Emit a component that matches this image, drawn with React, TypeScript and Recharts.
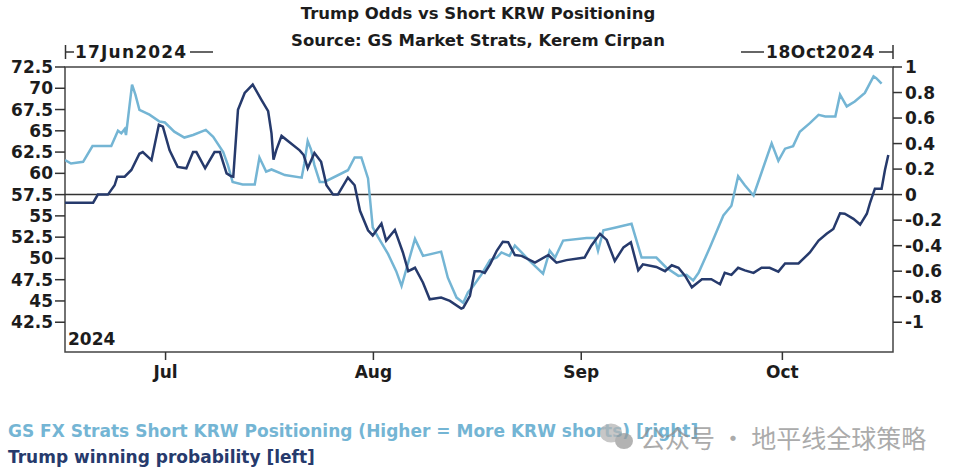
import React from 'react';
import { LineChart, Line, XAxis, YAxis, ReferenceLine, ReferenceArea } from 'recharts';

// Day index: 0 = 16 Jun 2024
const trumpDays = [0, 4.2, 4.9, 6.4, 7.4, 7.8, 8.9, 9.9, 11.1, 11.6, 12.9, 14.0, 14.6, 15.6, 16.8, 18.1, 19.1, 19.6, 20.9, 22.3, 23.1, 24.1, 24.8, 25.1, 25.8, 26.8, 28.0, 29.3, 30.3, 30.8, 31.1, 31.5, 32.3, 35.0, 35.6, 36.2, 37.2, 38.2, 39.0, 40.0, 40.7, 42.2, 43.2, 44.0, 45.2, 45.9, 47.2, 47.9, 49.2, 50.4, 51.2, 52.2, 53.4, 54.4, 56.1, 57.4, 59.1, 59.4, 60.4, 61.1, 61.9, 62.6, 63.4, 64.4, 65.3, 66.1, 67.1, 68.1, 70.1, 72.1, 73.3, 74.8, 77.5, 78.5, 79.8, 80.8, 82.0, 83.3, 84.4, 85.5, 86.2, 88.2, 89.5, 90.5, 91.5, 92.5, 93.5, 95.0, 96.4, 97.7, 98.4, 99.4, 100.4, 101.4, 102.7, 103.9, 105.1, 106.4, 107.4, 109.4, 111.1, 112.4, 113.6, 114.6, 115.6, 116.3, 117.6, 118.6, 119.6, 120.1, 120.8, 121.8, 122.3, 122.8];
const trumpProb = [56.55, 56.55, 57.5, 57.5, 58.6, 59.6, 59.6, 60.4, 62.3, 62.5, 61.55, 65.7, 65.5, 62.7, 60.76, 60.6, 62.5, 62.5, 60.6, 62.5, 62.5, 60.0, 59.66, 59.6, 67.47, 69.45, 70.43, 68.65, 67.3, 64.7, 61.6, 62.7, 64.4, 62.7, 62.15, 60.6, 62.4, 61.35, 58.6, 57.5, 57.5, 59.5, 58.6, 55.6, 53.3, 52.7, 54.1, 52.1, 53.35, 50.7, 48.5, 48.9, 47.15, 45.2, 45.4, 45.0, 44.1, 44.2, 45.6, 48.5, 48.5, 48.3, 49.3, 50.9, 51.96, 51.9, 50.4, 50.3, 49.5, 50.4, 49.5, 49.8, 50.1, 51.5, 52.9, 52.17, 49.7, 51.3, 51.9, 48.6, 49.3, 49.0, 48.5, 49.2, 48.9, 47.94, 46.6, 47.55, 47.55, 46.96, 48.3, 48.06, 48.9, 48.6, 48.3, 48.9, 48.9, 48.45, 49.4, 49.4, 50.7, 52.1, 52.9, 53.47, 55.3, 55.25, 54.65, 53.98, 55.25, 56.6, 58.2, 58.2, 60.4, 62.15];

const krwDays = [0, 0.9, 2.7, 4.1, 6.9, 7.9, 8.4, 8.9, 9.1, 10.0, 10.5, 11.1, 12.6, 14.1, 14.9, 16.3, 17.8, 19.1, 21.0, 22.1, 23.6, 24.3, 25.0, 26.5, 28.3, 29.0, 30.0, 30.8, 32.8, 35.3, 35.7, 36.2, 36.7, 37.2, 38.0, 38.7, 42.2, 43.2, 44.2, 45.2, 45.9, 46.7, 48.2, 49.4, 50.2, 50.9, 52.2, 53.4, 56.1, 57.1, 58.4, 59.4, 60.1, 60.9, 62.1, 63.4, 64.4, 65.1, 66.3, 67.1, 68.1, 69.3, 71.3, 72.3, 73.1, 74.3, 77.8, 79.0, 79.5, 80.3, 82.0, 84.5, 86.0, 88.2, 89.7, 91.5, 92.7, 93.7, 94.5, 96.2, 98.2, 99.4, 100.4, 101.4, 102.7, 103.7, 105.4, 106.4, 107.4, 108.6, 109.6, 111.1, 112.4, 113.4, 114.9, 115.6, 116.6, 117.8, 119.3, 120.6, 121.0, 121.8];
const krwPos = [0.27, 0.244, 0.257, 0.38, 0.38, 0.5, 0.48, 0.513, 0.467, 0.862, 0.783, 0.665, 0.627, 0.573, 0.565, 0.493, 0.447, 0.467, 0.507, 0.453, 0.333, 0.231, 0.099, 0.08, 0.08, 0.291, 0.18, 0.197, 0.153, 0.133, 0.244, 0.42, 0.353, 0.231, 0.099, 0.099, 0.191, 0.291, 0.291, 0.127, -0.256, -0.333, -0.467, -0.6, -0.716, -0.587, -0.347, -0.48, -0.447, -0.651, -0.807, -0.847, -0.767, -0.716, -0.627, -0.513, -0.493, -0.453, -0.48, -0.4, -0.453, -0.52, -0.62, -0.44, -0.493, -0.36, -0.34, -0.34, -0.44, -0.28, -0.26, -0.229, -0.493, -0.493, -0.573, -0.637, -0.629, -0.673, -0.613, -0.413, -0.163, -0.087, 0.144, 0.073, -0.007, 0.144, 0.402, 0.265, 0.36, 0.38, 0.493, 0.56, 0.625, 0.613, 0.613, 0.783, 0.691, 0.73, 0.797, 0.927, 0.913, 0.87];

const monthTicks = [15, 46, 77, 107];
const monthLabels = ['Jul', 'Aug', 'Sep', 'Oct'];
const leftTicks = [42.5, 45, 47.5, 50, 52.5, 55, 57.5, 60, 62.5, 65, 67.5, 70, 72.5];
const rightTicks = [-1, -0.8, -0.6, -0.4, -0.2, 0, 0.2, 0.4, 0.6, 0.8, 1];

const title = 'Trump Odds vs Short KRW Positioning';
const subtitle = 'Source: GS Market Strats, Kerem Cirpan';
const startLabel = '17Jun2024';
const endLabel = '18Oct2024';
const yearLabel = '2024';
const krwLegend = 'GS FX Strats Short KRW Positioning (Higher = More KRW shorts) [right]';
const trumpLegend = 'Trump winning probability [left]';
const watermark = '公众号 · 地平线全球策略';

const DARK = '#263a6c';
const LIGHT = '#74b5d4';
const FONT = '"DejaVu Sans", sans-serif';

const trumpData = trumpDays.map((d, i) => ({ d, v: trumpProb[i] }));
const krwData = krwDays.map((d, i) => ({ d, v: krwPos[i] }));

const tickStyle = { fontFamily: FONT, fontSize: 17, fontWeight: 700, fill: '#1c1c1c' };

export default function App() {
  return (
    <div style={{ position: 'absolute', left: 0, top: 0, width: 960, height: 476, background: '#fff' }}>
      <LineChart width={960} height={476} margin={{ top: 67, right: 0, bottom: 84, left: 0 }}>
        <XAxis
          type="number"
          dataKey="d"
          domain={[0, 123.5]}
          ticks={monthTicks}
          tickFormatter={(v: number) => monthLabels[monthTicks.indexOf(v)]}
          axisLine={false}
          tickLine={{ stroke: '#333', strokeWidth: 1.5 }}
          tickSize={8}
          tickMargin={6}
          height={40}
          tick={tickStyle}
          allowDataOverflow
        />
        <YAxis
          yAxisId="left"
          orientation="left"
          domain={[39, 72.5]}
          ticks={leftTicks}
          width={65}
          axisLine={false}
          tickLine={{ stroke: '#333', strokeWidth: 1.5 }}
          tickSize={10}
          tickMargin={2}
          tick={tickStyle}
          interval={0}
          allowDataOverflow
        />
        <YAxis
          yAxisId="right"
          orientation="right"
          domain={[-1.2333, 1]}
          ticks={rightTicks}
          width={67}
          axisLine={false}
          tickLine={{ stroke: '#333', strokeWidth: 1.5 }}
          tickSize={9}
          tickMargin={3}
          tick={tickStyle}
          interval={0}
          allowDataOverflow
        />
        <ReferenceArea yAxisId="left" x1={0} x2={123.5} y1={39} y2={72.5} fill="none" stroke="#444" strokeWidth={1.5} />
        <ReferenceLine yAxisId="right" y={0} stroke="#333" strokeWidth={1.5} />
        <Line yAxisId="right" data={krwData} dataKey="v" type="linear" stroke={LIGHT} strokeWidth={2.5} dot={false} isAnimationActive={false} />
        <Line yAxisId="left" data={trumpData} dataKey="v" type="linear" stroke={DARK} strokeWidth={2.5} dot={false} isAnimationActive={false} />
      </LineChart>
      <svg width={960} height={476} style={{ position: 'absolute', left: 0, top: 0, pointerEvents: 'none' }}>
        <g fontFamily={FONT} fontWeight={700} fill="#1c1c1c">
          <text x={478} y={13} fontSize={16.5} textAnchor="middle" dominantBaseline="central">{title}</text>
          <text x={478} y={40} fontSize={16.5} textAnchor="middle" dominantBaseline="central">{subtitle}</text>
          <line x1={65.5} y1={45} x2={65.5} y2={59} stroke="#333" strokeWidth={1.5} />
          <line x1={65.5} y1={52} x2={74} y2={52} stroke="#333" strokeWidth={1.5} />
          <text x={75} y={52} fontSize={17} letterSpacing={1.2} dominantBaseline="central">{startLabel}</text>
          <line x1={190} y1={52} x2={213} y2={52} stroke="#333" strokeWidth={1.5} />
          <line x1={741} y1={52} x2={764} y2={52} stroke="#333" strokeWidth={1.5} />
          <text x={766} y={52} fontSize={17} letterSpacing={0.6} dominantBaseline="central">{endLabel}</text>
          <line x1={879} y1={52} x2={893} y2={52} stroke="#333" strokeWidth={1.5} />
          <line x1={893} y1={45} x2={893} y2={59} stroke="#333" strokeWidth={1.5} />
          <text x={68} y={339} fontSize={17} dominantBaseline="central">{yearLabel}</text>
          <text x={8} y={431} fontSize={17} fill={LIGHT} dominantBaseline="central">{krwLegend}</text>
          <text x={8} y={457} fontSize={17} fill={DARK} dominantBaseline="central">{trumpLegend}</text>
        </g>
        <g opacity={0.75}>
          <ellipse cx={611} cy={433} rx={11} ry={9.5} fill="#b5b5b5" />
          <ellipse cx={624} cy={441} rx={9} ry={8} fill="#9a9a9a" />
          <text x={640} y={437} fontSize={25} fill="#8f8f8f" fontFamily='"Noto Sans CJK SC", sans-serif' dominantBaseline="central">{watermark}</text>
        </g>
      </svg>
    </div>
  );
}
